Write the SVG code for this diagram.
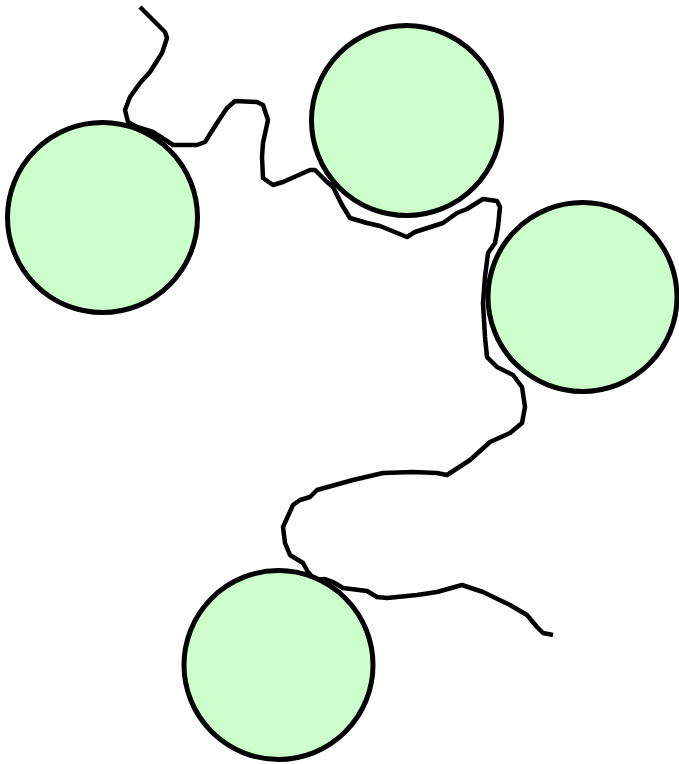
<svg xmlns="http://www.w3.org/2000/svg" width="679" height="764" viewBox="0 0 679 764">
<style>
.node{fill:#ccffcc;stroke:#000;stroke-width:5}
.wire{fill:none;stroke:#000;stroke-width:4.5;stroke-linejoin:round;stroke-linecap:butt}
</style>
<rect width="679" height="764" fill="#fff"/>
<g id="connectors">
<polyline class="wire" points="140,7 165,32 167,38 162,53 150,72 140,83 130,97 125,110 128,122 137,127 153,132 173,145 197,145 205,142 217,123 227,108 235,101 257,102 263,105 268,120 263,143 262,157 263,178 273,185 283,182 310,170 315,170 327,182 333,187 342,205 350,218 367,223 380,226 407,237 415,232 443,223 457,213 467,209 483,199 497,201 500,207 498,227 495,243 488,253 485,277 483,303 485,337 487,357 497,367 513,375 522,387 525,407 522,423 510,433 490,442 470,460 447,475 437,473 413,472 383,473 353,480 317,490 310,497 300,500 293,505 283,527 285,543 290,555 303,563 308,572 315,580 325,579 333,582 343,588 367,591 377,597 387,598 417,595 437,592 462,585 483,592 510,605 527,615 537,627 543,633 553,635"/>
</g>
<g id="n1"><circle class="node" cx="102.5" cy="217.5" r="95"/></g>
<g id="n2"><circle class="node" cx="406.5" cy="120.5" r="95"/></g>
<g id="n3"><circle class="node" cx="582.5" cy="297" r="94.5"/></g>
<g id="n4"><circle class="node" cx="278.5" cy="665" r="94.5"/></g>
</svg>
